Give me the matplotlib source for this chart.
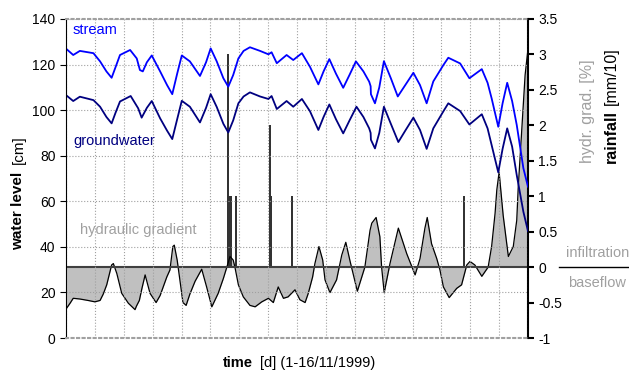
import numpy as np
import matplotlib.pyplot as plt
from matplotlib.lines import Line2D

plt.rcParams.update({'font.family': ['Liberation Sans', 'DejaVu Sans'], 'font.size': 10})

# time axis in days (1-16/11/1999)
stream_t = [0.0, 0.25, 0.48, 0.95, 1.18, 1.40, 1.58, 1.72, 1.87, 2.22, 2.45, 2.56, 2.66, 2.80, 2.97,
            3.26, 3.50, 3.68, 3.85, 4.01, 4.29, 4.64, 4.85, 5.01, 5.22, 5.45, 5.62, 5.79, 5.97, 6.15,
            6.37, 6.72, 7.01, 7.12, 7.30, 7.64, 7.87, 8.17, 8.45, 8.74, 8.92, 9.12, 9.35, 9.60, 9.82,
            10.04, 10.30, 10.50, 10.55, 10.56, 10.70, 10.85, 11.01, 11.25, 11.49, 11.75, 12.03, 12.26,
            12.49, 12.72, 13.07, 13.24, 13.65, 13.97, 14.40, 14.60, 14.74, 14.97, 15.12, 15.28, 15.45,
            15.61, 15.84, 16.0]
stream_cm = [127.0, 124.2, 126.0, 125.0, 121.4, 117.0, 114.2, 119.0, 124.2, 126.4, 122.7, 117.6, 117.0,
             121.0, 124.0, 117.0, 111.0, 107.0, 116.0, 124.0, 121.4, 115.0, 121.0, 127.1, 121.4, 114.0,
             110.3, 115.4, 122.7, 126.0, 127.6, 126.0, 124.5, 125.4, 120.6, 124.2, 122.0, 125.0, 119.0,
             111.3, 117.0, 122.4, 116.0, 109.8, 115.5, 121.4, 117.0, 112.5, 110.5, 107.0, 103.0, 110.0,
             121.5, 114.0, 106.0, 111.0, 116.4, 111.0, 103.0, 112.6, 119.8, 123.0, 120.5, 114.0, 118.0,
             112.0, 105.2, 92.7, 103.0, 112.0, 104.0, 93.5, 74.5, 66.4]

gw_t = [0.0, 0.25, 0.48, 0.95, 1.18, 1.40, 1.58, 1.72, 1.87, 2.24, 2.50, 2.62, 2.80, 2.97,
        3.26, 3.50, 3.68, 3.85, 4.01, 4.29, 4.64, 4.85, 5.01, 5.22, 5.45, 5.62, 5.79, 5.97, 6.15,
        6.37, 6.72, 7.01, 7.12, 7.30, 7.64, 7.87, 8.17, 8.45, 8.74, 8.92, 9.12, 9.35, 9.60, 9.82,
        10.06, 10.30, 10.50, 10.55, 10.56, 10.70, 10.85, 11.01, 11.25, 11.51, 11.75, 12.03, 12.26,
        12.49, 12.72, 13.07, 13.24, 13.65, 13.97, 14.40, 14.60, 14.74, 14.97, 15.12, 15.28, 15.45,
        15.61, 15.84, 16.0]
gw_cm = [106.6, 104.0, 105.9, 104.4, 101.5, 97.0, 94.2, 99.0, 103.8, 106.2, 100.8, 96.7, 101.0, 104.0,
         96.4, 91.0, 87.3, 96.0, 104.1, 101.5, 94.6, 101.0, 107.0, 101.4, 94.0, 90.2, 95.5, 103.0, 106.0,
         107.8, 106.0, 104.9, 106.2, 100.5, 104.0, 101.5, 104.9, 99.5, 91.3, 97.0, 102.5, 96.0, 89.8,
         95.5, 101.5, 97.0, 92.0, 90.0, 87.0, 83.2, 90.0, 101.5, 94.0, 86.0, 91.0, 96.7, 91.3, 83.0,
         92.0, 99.5, 103.0, 99.6, 93.7, 98.2, 92.0, 84.7, 72.7, 83.0, 92.0, 84.0, 71.5, 55.4, 46.9]

grad_t = [0.02, 0.14, 0.25, 0.48, 0.76, 1.00, 1.18, 1.29, 1.41, 1.58, 1.64, 1.76, 1.93, 2.16, 2.39,
          2.44, 2.54, 2.63, 2.74, 2.91, 3.12, 3.26, 3.49, 3.60, 3.70, 3.75, 3.85, 3.95, 4.05, 4.16,
          4.29, 4.47, 4.70, 4.87, 5.05, 5.27, 5.45, 5.57, 5.68, 5.79, 5.85, 5.97, 6.14, 6.37, 6.55,
          6.78, 7.01, 7.18, 7.35, 7.53, 7.69, 7.93, 8.10, 8.28, 8.39, 8.54, 8.62, 8.76, 8.89, 8.97,
          9.14, 9.37, 9.55, 9.69, 9.84, 10.09, 10.35, 10.53, 10.59, 10.74, 10.87, 10.93, 11.02, 11.22,
          11.51, 11.80, 12.09, 12.26, 12.43, 12.51, 12.66, 12.84, 12.95, 13.07, 13.27, 13.53, 13.70,
          13.88, 13.99, 14.16, 14.40, 14.62, 14.74, 14.86, 14.92, 15.00, 15.14, 15.32, 15.49, 15.61,
          15.66, 15.78, 15.90, 16.0]
grad_pct = [-0.58, -0.51, -0.44, -0.45, -0.47, -0.49, -0.47, -0.38, -0.25, 0.03, 0.05, -0.09, -0.37,
            -0.51, -0.60, -0.55, -0.47, -0.30, -0.11, -0.37, -0.50, -0.40, -0.14, -0.04, 0.29, 0.31,
            0.10, -0.20, -0.50, -0.54, -0.38, -0.20, -0.03, -0.28, -0.56, -0.37, -0.16, 0.0, 0.15, 0.10,
            0.0, -0.25, -0.42, -0.54, -0.56, -0.49, -0.44, -0.50, -0.28, -0.44, -0.42, -0.32, -0.46,
            -0.50, -0.37, -0.14, 0.05, 0.29, 0.10, -0.18, -0.36, -0.18, 0.17, 0.35, 0.08, -0.34, 0.0,
            0.52, 0.62, 0.70, 0.43, 0.0, -0.36, 0.05, 0.55, 0.19, -0.11, 0.12, 0.55, 0.70, 0.33, 0.12,
            -0.04, -0.28, -0.43, -0.30, -0.25, 0.03, 0.08, 0.03, -0.13, 0.0, 0.29, 0.76, 1.09, 1.34,
            0.73, 0.15, 0.29, 0.66, 1.11, 1.91, 2.71, 3.08]

rain_t = [5.62, 5.65, 5.69, 5.73, 5.88, 7.06, 7.10, 7.82, 13.78]
rain_mm10 = [3.0, 1.0, 1.0, 1.0, 1.0, 2.0, 1.0, 1.0, 1.0]

W, H = 629, 371
fig = plt.figure(figsize=(W / 100, H / 100), dpi=100)
ax = fig.add_axes([66 / W, 1 - 338 / H, (528 - 66) / W, (338 - 19) / H])
ax2 = ax.twinx()
ax.set_zorder(ax2.get_zorder() + 1)
ax.patch.set_visible(False)

# hydraulic gradient + rainfall on right axis
ax2.fill_between(grad_t, 0, grad_pct, color='#c0c0c0', lw=0)
ax2.plot(grad_t, grad_pct, color='k', lw=0.9)
ax2.axhline(0, color='#404040', lw=1.5)
ax2.bar(rain_t, rain_mm10, width=0.07, color='#333333')
ax2.set_ylim(-1, 3.5)
rt = np.arange(-1, 3.51, 0.5)
ax2.set_yticks(rt)
ax2.set_yticklabels(['%g' % v for v in rt])
ax2.tick_params(direction='out', length=4, width=1.5, labelsize=10)
for s in ['left', 'top', 'bottom']:
    ax2.spines[s].set_visible(False)
ax2.spines['right'].set_linewidth(1.5)

# water levels on left axis
ax.plot(stream_t, stream_cm, color='#0000ff', lw=1.3)
ax.plot(gw_t, gw_cm, color='#000080', lw=1.3)
ax.set_xlim(0, 16)
ax.set_ylim(0, 140)
ax.set_xticks(range(0, 17))
ax.set_yticks(range(0, 141, 20))
ax.tick_params(axis='x', length=0, labelbottom=False)
ax.tick_params(axis='y', direction='out', length=4, labelsize=10)
ax.grid(True, color='#a0a0a0', ls=':', lw=0.8)
ax.spines['right'].set_visible(False)
for s in ['top', 'bottom']:
    ax.spines[s].set(color='#a0a0a0', ls=':', lw=1.5)

fs = 10.5
fig.text(73 / W, 1 - 30 / H, 'stream', color='#0000ff', va='center', fontsize=fs)
fig.text(73 / W, 1 - 141 / H, 'groundwater', color='#000080', va='center', fontsize=fs)
fig.text(80 / W, 1 - 230 / H, 'hydraulic gradient', color='#a0a0a0', va='center', fontsize=fs)

fr = 11.5
fig.text(18.5 / W, 1 - 250 / H, 'water level', rotation=90, rotation_mode='anchor',
         ha='left', va='center', fontweight='bold', fontsize=11)
fig.text(18.5 / W, 1 - 135 / H, '[cm]', rotation=90, rotation_mode='anchor',
         ha='right', va='center', fontsize=11)
fig.text(587.5 / W, 1 - 163 / H, 'hydr. grad. [%]', rotation=90, rotation_mode='anchor',
         ha='left', va='center', color='#a0a0a0', fontsize=fr)
fig.text(611 / W, 1 - 163 / H, 'rainfall', rotation=90, rotation_mode='anchor',
         ha='left', va='center', fontweight='bold', fontsize=fr)
fig.text(611 / W, 1 - 47 / H, '[mm/10]', rotation=90, rotation_mode='anchor',
         ha='right', va='center', fontsize=fr)
fig.text(222.7 / W, 1 - 363 / H, 'time', ha='left', va='center', fontweight='bold', fontsize=fs)
fig.text(375 / W, 1 - 363 / H, '[d] (1-16/11/1999)', ha='right', va='center', fontsize=fs)

fig.text(597.5 / W, 1 - 253 / H, 'infiltration', ha='center', va='center', color='#a0a0a0', fontsize=fs)
fig.text(597.5 / W, 1 - 283 / H, 'baseflow', ha='center', va='center', color='#a0a0a0', fontsize=fs)
fig.add_artist(Line2D([559 / W, 1.0], [1 - 267 / H, 1 - 267 / H], color='k', lw=1))

fig.savefig('out.png', dpi=100)
